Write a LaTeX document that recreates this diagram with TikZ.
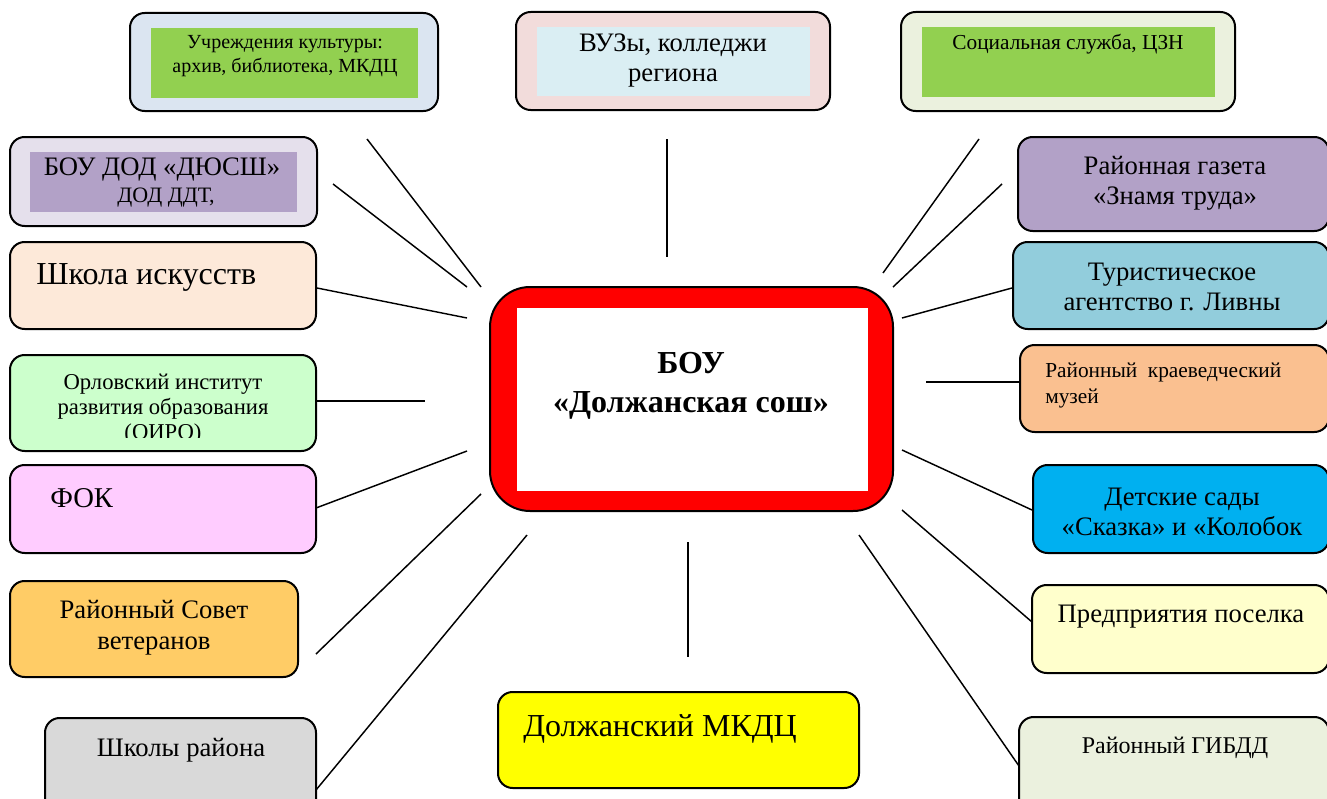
\documentclass[tikz,border=0pt]{standalone}
\usepackage{fontspec}
\setmainfont{Liberation Serif}
\usetikzlibrary{fit}
\definecolor{cA}{HTML}{DBE5F1}
\definecolor{cGreen}{HTML}{92D050}
\definecolor{cPinkO}{HTML}{F2DCDB}
\definecolor{cBlueI}{HTML}{DAEEF3}
\definecolor{cOlive}{HTML}{EBF1DE}
\definecolor{cLav}{HTML}{E5E0EC}
\definecolor{cPurp}{HTML}{B2A1C7}
\definecolor{cPeach}{HTML}{FDE9D9}
\definecolor{cMint}{HTML}{CCFFCC}
\definecolor{cMag}{HTML}{FFCCFF}
\definecolor{cGold}{HTML}{FFCC66}
\definecolor{cGrey}{HTML}{D9D9D9}
\definecolor{cYel}{HTML}{FFFF00}
\definecolor{cTeal}{HTML}{92CDDC}
\definecolor{cOra}{HTML}{FAC090}
\definecolor{cSky}{HTML}{00B0F0}
\definecolor{cCream}{HTML}{FFFFCC}
\definecolor{cRed}{HTML}{FF0000}
\begin{document}
\begin{tikzpicture}[x=0.75pt,y=-0.75pt,
  box/.style={draw=black, line width=1.5pt, rounded corners=11pt, inner sep=0pt},
  bigbox/.style={draw=black, line width=1.5pt, rounded corners=30pt, inner sep=0pt},
  inbox/.style={draw=none, inner sep=0pt},
  lbl/.style={align=center, inner sep=0pt, text=black},
  lbll/.style={align=left, inner sep=0pt, text=black},
  conn/.style={draw=black, line width=1.1pt}]
\useasboundingbox (0,0) rectangle (1327,799);
\fill[white] (0,0) rectangle (1327,799);
\clip (0,0) rectangle (1327,799);

% center
\node[bigbox, fill=cRed, fit={(490,287) (893,511)}] (c) {};
\node[inbox, fill=white, fit={(517,308) (868,491)}] (ci) {};
\node[lbl, font=\bfseries\fontsize{24}{29}\selectfont] (ct) at (691,386) {БОУ\\«Должанская сош»};

% top row
\node[box, fill=cA, fit={(130,13) (438,111)}] (b1) {};
\node[inbox, fill=cGreen, fit={(151,28) (418,98)}] (b1i) {};
\node[lbl, font=\fontsize{15}{18}\selectfont] (t1) at (285,56) {Учреждения культуры:\\архив, библиотека, МКДЦ};

\node[box, fill=cPinkO, fit={(516,12) (830,110)}] (b2) {};
\node[inbox, fill=cBlueI, fit={(537,27) (810,96)}] (b2i) {};
\node[lbl, font=\fontsize{20}{22.5}\selectfont] (t2) at (673,61) {ВУЗы, колледжи\\региона};

\node[box, fill=cOlive, fit={(901,12) (1235,111)}] (b3) {};
\node[inbox, fill=cGreen, fit={(922,27) (1215,97)}] (b3i) {};
\node[lbl, font=\fontsize{16}{18}\selectfont] (t3) at (1068,44) {Социальная служба, ЦЗН};

% left column
\node[box, fill=cLav, fit={(10,137) (317,226)}] (b4) {};
\node[inbox, fill=cPurp, fit={(30,152) (297,212)}] (b4i) {};
\node[lbl, font=\fontsize{20}{20}\selectfont] (t4a) at (162,170) {БОУ ДОД «ДЮСШ»};
\node[lbl, font=\fontsize{16.5}{16.5}\selectfont] (t4b) at (166,198) {ДОД ДДТ,};

\node[box, fill=cPeach, fit={(10,242) (316,329)}] (b5) {};
\node[lbll, font=\fontsize{24}{28}\selectfont, anchor=west] (t5) at (36,277) {Школа искусств};

\node[box, fill=cMint, fit={(10,355) (316,451)}] (b6) {};
\begin{scope}
\clip (10,355) rectangle (316,437);
\node[lbl, font=\fontsize{17}{18.75}\selectfont] (t6) at (163,409) {Орловский институт\\развития образования\\(ОИРО)};
\end{scope}

\node[box, fill=cMag, fit={(10,465) (316,553)}] (b7) {};
\node[lbll, font=\fontsize{21.5}{25}\selectfont, anchor=west] (t7) at (50,498) {ФОК};

\node[box, fill=cGold, fit={(10,581) (298,677)}] (b8) {};
\node[lbl, font=\fontsize{20}{23}\selectfont] (t8) at (154,628) {Районный Совет\\ветеранов};

\node[box, fill=cGrey, fit={(45,718) (316,815)}] (b9) {};
\node[lbl, font=\fontsize{20}{22}\selectfont] (t9) at (181,750) {Школы района};

% bottom center
\node[box, fill=cYel, fit={(498,692) (859,788)}] (b11) {};
\node[lbll, font=\fontsize{24}{28}\selectfont, anchor=west] (t11) at (523,729) {Должанский МКДЦ};

% right column
\node[box, fill=cPurp, fit={(1018,137) (1329,231)}] (b12) {};
\node[lbl, font=\fontsize{20}{22.5}\selectfont] (t12) at (1175,183) {Районная газета\\«Знамя труда»};

\node[box, fill=cTeal, fit={(1013,242) (1329,329)}] (b13) {};
\node[lbl, font=\fontsize{20}{22.5}\selectfont] (t13) at (1172,287) {Туристическое\\агентство г. Ливны};

\node[box, fill=cOra, fit={(1020,345) (1329,432)}] (b14) {};
\node[lbll, font=\fontsize{16}{19.5}\selectfont, anchor=west] (t14) at (1045,385) {Районный\ \ краеведческий\\музей};

\node[box, fill=cSky, fit={(1033,465) (1329,553)}] (b15) {};
\node[lbl, font=\fontsize{20}{22.5}\selectfont] (t15) at (1182,512) {Детские сады\\«Сказка» и «Колобок};

\node[box, fill=cCream, fit={(1032,585) (1329,673)}] (b16) {};
\node[lbl, font=\fontsize{20}{23}\selectfont] (t16) at (1181,617) {Предприятия поселка};

\node[box, fill=cOlive, fit={(1019,717) (1329,815)}] (b17) {};
\node[lbl, font=\fontsize{18}{20}\selectfont] (t17) at (1175,748) {Районный ГИБДД};

% connector end points
\coordinate (p1a) at (367,139); \coordinate (p1b) at (481,287);
\coordinate (p2a) at (333,184); \coordinate (p2b) at (467,287);
\coordinate (p3a) at (317,288); \coordinate (p3b) at (467,318);
\coordinate (p4a) at (316,401); \coordinate (p4b) at (425,401);
\coordinate (p5a) at (316,508); \coordinate (p5b) at (467,451);
\coordinate (p6a) at (316,654); \coordinate (p6b) at (481,494);
\coordinate (p7a) at (316,790); \coordinate (p7b) at (527,535);
\coordinate (p8a) at (667,139); \coordinate (p8b) at (667,257);
\coordinate (p9a) at (688,542); \coordinate (p9b) at (688,657);
\coordinate (q1a) at (979,139); \coordinate (q1b) at (883,273);
\coordinate (q2a) at (1002,184); \coordinate (q2b) at (893,287);
\coordinate (q3a) at (1012,288); \coordinate (q3b) at (902,318);
\coordinate (q4a) at (1020,382); \coordinate (q4b) at (926,382);
\coordinate (q5a) at (1032,510); \coordinate (q5b) at (902,450);
\coordinate (q6a) at (1032,622); \coordinate (q6b) at (902,510);
\coordinate (q7a) at (1019,766); \coordinate (q7b) at (859,535);

\foreach \a/\b in {p1a/p1b,p2a/p2b,p3a/p3b,p4a/p4b,p5a/p5b,p6a/p6b,p7a/p7b,p8a/p8b,p9a/p9b,q1a/q1b,q2a/q2b,q3a/q3b,q4a/q4b,q5a/q5b,q6a/q6b,q7a/q7b}
  \draw[conn] (\a) -- (\b);
\end{tikzpicture}
\end{document}
